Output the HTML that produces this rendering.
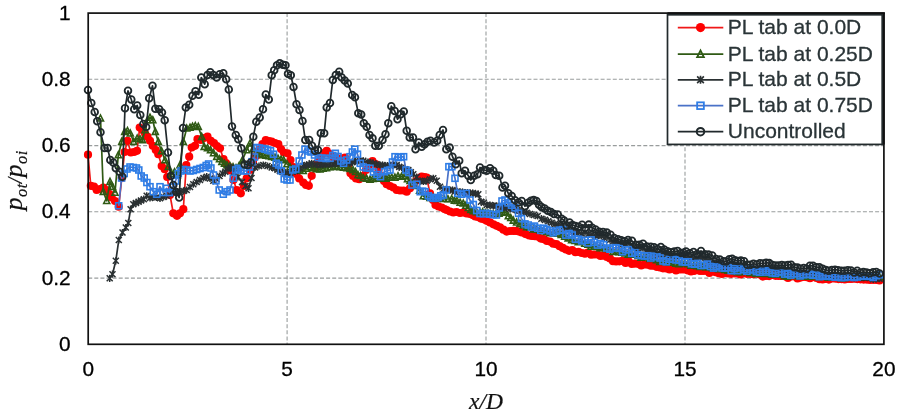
<!DOCTYPE html>
<html lang="en"><head><meta charset="utf-8"><title>Chart</title>
<style>
html,body{margin:0;padding:0;background:#fff}
body{width:900px;height:414px;overflow:hidden}
svg{display:block;filter:blur(0.4px)}
.tk{font-family:"Liberation Sans",Arial,sans-serif;font-size:20.8px;fill:#000;stroke:#000;stroke-width:.3px}
.lg{font-family:"Liberation Sans",Arial,sans-serif;font-size:21px;fill:#2a3437;stroke:#2a3437;stroke-width:.3px}
.ax{font-family:"Liberation Serif","Times New Roman",serif;font-style:italic;font-size:23.5px;fill:#111;stroke:#111;stroke-width:.2px}
.ay{font-size:25.5px;letter-spacing:.45px}
.sb{font-size:16.5px}
.sl{font-size:20px}
</style></head><body>
<svg width="900" height="414" viewBox="0 0 900 414">
<defs>
<circle id="mr" r="4.1" fill="#ff0000"/>
<path id="mg" d="M0,-3.3 L3,2.7 L-3,2.7 Z" fill="none" stroke="#2f5a14" stroke-width="1.6" stroke-linejoin="miter"/>
<path id="ms" d="M-3,-3 L3,3 M-3,3 L3,-3 M0,-3.6 L0,3.6" fill="none" stroke="#2a3032" stroke-width="1.5"/>
<rect id="mb" x="-3" y="-3" width="6" height="6" fill="none" stroke="#2e7de6" stroke-width="1.6"/>
<circle id="mu" r="3.35" fill="none" stroke="#20292c" stroke-width="1.8"/>
</defs>
<rect width="900" height="414" fill="#fff"/>
<g stroke="#999d9d" stroke-width="1.1" stroke-dasharray="4 2.1" fill="none"><line x1="88.2" y1="278.1" x2="883.9" y2="278.1"/><line x1="88.2" y1="211.8" x2="883.9" y2="211.8"/><line x1="88.2" y1="145.6" x2="883.9" y2="145.6"/><line x1="88.2" y1="79.3" x2="883.9" y2="79.3"/><line x1="287.1" y1="13.1" x2="287.1" y2="344.3"/><line x1="486" y1="13.1" x2="486" y2="344.3"/><line x1="685" y1="13.1" x2="685" y2="344.3"/></g>
<g><polyline points="88,154.7 90.8,185.8 94,186.5 96.7,190 100,189 103.3,187.5 106.5,190 109.5,194 111.7,197.5 115,201 118.7,206.7 121.8,178 124.6,152 127.5,140.8 130.8,152.5 134,152 137,150.8 139.7,127.5 142.5,130 145,133.5 147.5,136.7 150,140.8 152.8,145.8 155.8,150 158.3,154.2 161.7,166 164.7,169.2 167.2,177 170,195 173.3,213.3 177,215.8 180,213.3 183.3,209.2 186.3,165 189.2,156.7 191.7,147.5 195,145.8 197.5,139.2 200.8,140 204,138 207.5,136.7 210.8,140.8 214,143 217,146 220,148.3 223.5,159 226,163 228.5,166.5 230.5,170.5 233.5,180 236.7,190 240.8,193.3 243.8,186 246.7,178.3 250,170 253,162 256,156 259,150 262.5,144 265.8,140 269,141 271.7,141.7 275,143 278.3,144.2 281,149 283.8,152.5 287.5,153.3 290.5,160 293.5,167 296.5,174 299.2,178.5 303.3,182.5 306,185 308.8,185.8 311.7,175.8 315,168 318,162 321,157 324,153 326.7,150.8 330,154 333,157 336,158 339,158.5 342,158.5 345,157.5 348,166 350.5,173.3 353,176 356,178.5 359.2,179.2 362.5,176 366,170 369,165 372.5,161 375.5,164 378.5,170 381,176 384,181 386.7,184.2 390,186 393.3,187.5 396.7,190 400,190.5 403.5,190.5 406.7,191.7 410,188.3 413,185 416,181 419,178 421.7,176.7 424.5,177 426.7,177.5 430,193.3 433,200 435.5,205 438.5,206.5 441.7,207.5 444.5,209 446.7,210 450,211.5 453.3,212.5 456.5,212 460,213 463.3,212.5 466.6,213.5 470,214 472.7,215.1 475.3,216.5 478,217 480.9,218.6 483.8,219.3 486.7,220.8 490,222.4 493.4,224.3 496.7,225.8 500,227.3 503.4,229.7 506.7,231.6 510,231 513.3,230.9 516.1,230.9 518.9,231.5 521.7,232.5 525.5,234.1 529.2,235.5 532,235.9 534.9,236.2 537.7,236.6 540.8,238.6 543.9,239.2 546.9,241 550,241.6 553.2,243.7 556.4,244.2 559.6,246.2 562.8,247.9 565.9,249.5 569.1,250.8 572.2,250 575.4,252.2 578.5,251.8 581.7,253 584.9,253.7 588,252.5 591.1,254.7 594.2,254.5 597.4,254.5 600.5,255.9 603.6,255.4 606.8,256.9 609.9,258.4 613,261.2 616.1,261.4 619.3,261.3 622.5,260.8 625.6,263 628.7,261.4 631.8,263.9 634.9,263.6 638,263.8 641.2,265.5 644.4,264.5 647.6,264.7 650.8,265.7 653.8,265.7 656.9,266.9 660,267.5 663,268.3 666.2,268.4 669.5,269.4 672.8,268.7 676,270.4 679,269.4 682,269.4 685,269.4 688,270.5 691,271.5 694,271 697,269.6 700,271 703.1,270.9 706.2,270.8 709.4,273 712.5,271 715.6,272.2 718.8,273.2 721.9,273.9 725,272.9 728.1,273.4 731.2,273.8 734.4,273.3 737.5,273.5 740.6,274.4 743.8,273.1 746.9,273.8 750,273.8 753.2,274.2 756.4,273.5 759.6,274.4 762.8,276.6 765.9,275.9 769.1,276.1 772.3,275 775.5,275.8 778.6,276 781.8,275.9 784.9,276.3 788,277.9 791.2,276.4 794.3,276.3 797.5,278.5 800.6,277.6 803.8,276.8 806.9,277.2 810,278.2 813.2,276.9 816.4,278 819.5,279.2 822.6,279.5 825.8,278.8 828.9,279.6 832.1,278.5 835.2,278.6 838.4,279.1 841.5,279.1 844.7,279.5 847.9,279 851,279 854.2,278.7 857.3,279.1 860.5,279.3 863.7,279.6 866.8,279.6 870,279.9 873.2,279.8 876.3,280 879.5,280.5" fill="none" stroke="#f01818" stroke-width="1.7" stroke-linejoin="round"/><use href="#mr" x="88" y="154.7"/><use href="#mr" x="90.8" y="185.8"/><use href="#mr" x="94" y="186.5"/><use href="#mr" x="96.7" y="190"/><use href="#mr" x="100" y="189"/><use href="#mr" x="103.3" y="187.5"/><use href="#mr" x="106.5" y="190"/><use href="#mr" x="109.5" y="194"/><use href="#mr" x="111.7" y="197.5"/><use href="#mr" x="115" y="201"/><use href="#mr" x="118.7" y="206.7"/><use href="#mr" x="121.8" y="178"/><use href="#mr" x="124.6" y="152"/><use href="#mr" x="127.5" y="140.8"/><use href="#mr" x="130.8" y="152.5"/><use href="#mr" x="134" y="152"/><use href="#mr" x="137" y="150.8"/><use href="#mr" x="139.7" y="127.5"/><use href="#mr" x="142.5" y="130"/><use href="#mr" x="145" y="133.5"/><use href="#mr" x="147.5" y="136.7"/><use href="#mr" x="150" y="140.8"/><use href="#mr" x="152.8" y="145.8"/><use href="#mr" x="155.8" y="150"/><use href="#mr" x="158.3" y="154.2"/><use href="#mr" x="161.7" y="166"/><use href="#mr" x="164.7" y="169.2"/><use href="#mr" x="167.2" y="177"/><use href="#mr" x="170" y="195"/><use href="#mr" x="173.3" y="213.3"/><use href="#mr" x="177" y="215.8"/><use href="#mr" x="180" y="213.3"/><use href="#mr" x="183.3" y="209.2"/><use href="#mr" x="186.3" y="165"/><use href="#mr" x="189.2" y="156.7"/><use href="#mr" x="191.7" y="147.5"/><use href="#mr" x="195" y="145.8"/><use href="#mr" x="197.5" y="139.2"/><use href="#mr" x="200.8" y="140"/><use href="#mr" x="204" y="138"/><use href="#mr" x="207.5" y="136.7"/><use href="#mr" x="210.8" y="140.8"/><use href="#mr" x="214" y="143"/><use href="#mr" x="217" y="146"/><use href="#mr" x="220" y="148.3"/><use href="#mr" x="223.5" y="159"/><use href="#mr" x="226" y="163"/><use href="#mr" x="228.5" y="166.5"/><use href="#mr" x="230.5" y="170.5"/><use href="#mr" x="233.5" y="180"/><use href="#mr" x="236.7" y="190"/><use href="#mr" x="240.8" y="193.3"/><use href="#mr" x="243.8" y="186"/><use href="#mr" x="246.7" y="178.3"/><use href="#mr" x="250" y="170"/><use href="#mr" x="253" y="162"/><use href="#mr" x="256" y="156"/><use href="#mr" x="259" y="150"/><use href="#mr" x="262.5" y="144"/><use href="#mr" x="265.8" y="140"/><use href="#mr" x="269" y="141"/><use href="#mr" x="271.7" y="141.7"/><use href="#mr" x="275" y="143"/><use href="#mr" x="278.3" y="144.2"/><use href="#mr" x="281" y="149"/><use href="#mr" x="283.8" y="152.5"/><use href="#mr" x="287.5" y="153.3"/><use href="#mr" x="290.5" y="160"/><use href="#mr" x="293.5" y="167"/><use href="#mr" x="296.5" y="174"/><use href="#mr" x="299.2" y="178.5"/><use href="#mr" x="303.3" y="182.5"/><use href="#mr" x="306" y="185"/><use href="#mr" x="308.8" y="185.8"/><use href="#mr" x="311.7" y="175.8"/><use href="#mr" x="315" y="168"/><use href="#mr" x="318" y="162"/><use href="#mr" x="321" y="157"/><use href="#mr" x="324" y="153"/><use href="#mr" x="326.7" y="150.8"/><use href="#mr" x="330" y="154"/><use href="#mr" x="333" y="157"/><use href="#mr" x="336" y="158"/><use href="#mr" x="339" y="158.5"/><use href="#mr" x="342" y="158.5"/><use href="#mr" x="345" y="157.5"/><use href="#mr" x="348" y="166"/><use href="#mr" x="350.5" y="173.3"/><use href="#mr" x="353" y="176"/><use href="#mr" x="356" y="178.5"/><use href="#mr" x="359.2" y="179.2"/><use href="#mr" x="362.5" y="176"/><use href="#mr" x="366" y="170"/><use href="#mr" x="369" y="165"/><use href="#mr" x="372.5" y="161"/><use href="#mr" x="375.5" y="164"/><use href="#mr" x="378.5" y="170"/><use href="#mr" x="381" y="176"/><use href="#mr" x="384" y="181"/><use href="#mr" x="386.7" y="184.2"/><use href="#mr" x="390" y="186"/><use href="#mr" x="393.3" y="187.5"/><use href="#mr" x="396.7" y="190"/><use href="#mr" x="400" y="190.5"/><use href="#mr" x="403.5" y="190.5"/><use href="#mr" x="406.7" y="191.7"/><use href="#mr" x="410" y="188.3"/><use href="#mr" x="413" y="185"/><use href="#mr" x="416" y="181"/><use href="#mr" x="419" y="178"/><use href="#mr" x="421.7" y="176.7"/><use href="#mr" x="424.5" y="177"/><use href="#mr" x="426.7" y="177.5"/><use href="#mr" x="430" y="193.3"/><use href="#mr" x="433" y="200"/><use href="#mr" x="435.5" y="205"/><use href="#mr" x="438.5" y="206.5"/><use href="#mr" x="441.7" y="207.5"/><use href="#mr" x="444.5" y="209"/><use href="#mr" x="446.7" y="210"/><use href="#mr" x="450" y="211.5"/><use href="#mr" x="453.3" y="212.5"/><use href="#mr" x="456.5" y="212"/><use href="#mr" x="460" y="213"/><use href="#mr" x="463.3" y="212.5"/><use href="#mr" x="466.6" y="213.5"/><use href="#mr" x="470" y="214"/><use href="#mr" x="472.7" y="215.1"/><use href="#mr" x="475.3" y="216.5"/><use href="#mr" x="478" y="217"/><use href="#mr" x="480.9" y="218.6"/><use href="#mr" x="483.8" y="219.3"/><use href="#mr" x="486.7" y="220.8"/><use href="#mr" x="490" y="222.4"/><use href="#mr" x="493.4" y="224.3"/><use href="#mr" x="496.7" y="225.8"/><use href="#mr" x="500" y="227.3"/><use href="#mr" x="503.4" y="229.7"/><use href="#mr" x="506.7" y="231.6"/><use href="#mr" x="510" y="231"/><use href="#mr" x="513.3" y="230.9"/><use href="#mr" x="516.1" y="230.9"/><use href="#mr" x="518.9" y="231.5"/><use href="#mr" x="521.7" y="232.5"/><use href="#mr" x="525.5" y="234.1"/><use href="#mr" x="529.2" y="235.5"/><use href="#mr" x="532" y="235.9"/><use href="#mr" x="534.9" y="236.2"/><use href="#mr" x="537.7" y="236.6"/><use href="#mr" x="540.8" y="238.6"/><use href="#mr" x="543.9" y="239.2"/><use href="#mr" x="546.9" y="241"/><use href="#mr" x="550" y="241.6"/><use href="#mr" x="553.2" y="243.7"/><use href="#mr" x="556.4" y="244.2"/><use href="#mr" x="559.6" y="246.2"/><use href="#mr" x="562.8" y="247.9"/><use href="#mr" x="565.9" y="249.5"/><use href="#mr" x="569.1" y="250.8"/><use href="#mr" x="572.2" y="250"/><use href="#mr" x="575.4" y="252.2"/><use href="#mr" x="578.5" y="251.8"/><use href="#mr" x="581.7" y="253"/><use href="#mr" x="584.9" y="253.7"/><use href="#mr" x="588" y="252.5"/><use href="#mr" x="591.1" y="254.7"/><use href="#mr" x="594.2" y="254.5"/><use href="#mr" x="597.4" y="254.5"/><use href="#mr" x="600.5" y="255.9"/><use href="#mr" x="603.6" y="255.4"/><use href="#mr" x="606.8" y="256.9"/><use href="#mr" x="609.9" y="258.4"/><use href="#mr" x="613" y="261.2"/><use href="#mr" x="616.1" y="261.4"/><use href="#mr" x="619.3" y="261.3"/><use href="#mr" x="622.5" y="260.8"/><use href="#mr" x="625.6" y="263"/><use href="#mr" x="628.7" y="261.4"/><use href="#mr" x="631.8" y="263.9"/><use href="#mr" x="634.9" y="263.6"/><use href="#mr" x="638" y="263.8"/><use href="#mr" x="641.2" y="265.5"/><use href="#mr" x="644.4" y="264.5"/><use href="#mr" x="647.6" y="264.7"/><use href="#mr" x="650.8" y="265.7"/><use href="#mr" x="653.8" y="265.7"/><use href="#mr" x="656.9" y="266.9"/><use href="#mr" x="660" y="267.5"/><use href="#mr" x="663" y="268.3"/><use href="#mr" x="666.2" y="268.4"/><use href="#mr" x="669.5" y="269.4"/><use href="#mr" x="672.8" y="268.7"/><use href="#mr" x="676" y="270.4"/><use href="#mr" x="679" y="269.4"/><use href="#mr" x="682" y="269.4"/><use href="#mr" x="685" y="269.4"/><use href="#mr" x="688" y="270.5"/><use href="#mr" x="691" y="271.5"/><use href="#mr" x="694" y="271"/><use href="#mr" x="697" y="269.6"/><use href="#mr" x="700" y="271"/><use href="#mr" x="703.1" y="270.9"/><use href="#mr" x="706.2" y="270.8"/><use href="#mr" x="709.4" y="273"/><use href="#mr" x="712.5" y="271"/><use href="#mr" x="715.6" y="272.2"/><use href="#mr" x="718.8" y="273.2"/><use href="#mr" x="721.9" y="273.9"/><use href="#mr" x="725" y="272.9"/><use href="#mr" x="728.1" y="273.4"/><use href="#mr" x="731.2" y="273.8"/><use href="#mr" x="734.4" y="273.3"/><use href="#mr" x="737.5" y="273.5"/><use href="#mr" x="740.6" y="274.4"/><use href="#mr" x="743.8" y="273.1"/><use href="#mr" x="746.9" y="273.8"/><use href="#mr" x="750" y="273.8"/><use href="#mr" x="753.2" y="274.2"/><use href="#mr" x="756.4" y="273.5"/><use href="#mr" x="759.6" y="274.4"/><use href="#mr" x="762.8" y="276.6"/><use href="#mr" x="765.9" y="275.9"/><use href="#mr" x="769.1" y="276.1"/><use href="#mr" x="772.3" y="275"/><use href="#mr" x="775.5" y="275.8"/><use href="#mr" x="778.6" y="276"/><use href="#mr" x="781.8" y="275.9"/><use href="#mr" x="784.9" y="276.3"/><use href="#mr" x="788" y="277.9"/><use href="#mr" x="791.2" y="276.4"/><use href="#mr" x="794.3" y="276.3"/><use href="#mr" x="797.5" y="278.5"/><use href="#mr" x="800.6" y="277.6"/><use href="#mr" x="803.8" y="276.8"/><use href="#mr" x="806.9" y="277.2"/><use href="#mr" x="810" y="278.2"/><use href="#mr" x="813.2" y="276.9"/><use href="#mr" x="816.4" y="278"/><use href="#mr" x="819.5" y="279.2"/><use href="#mr" x="822.6" y="279.5"/><use href="#mr" x="825.8" y="278.8"/><use href="#mr" x="828.9" y="279.6"/><use href="#mr" x="832.1" y="278.5"/><use href="#mr" x="835.2" y="278.6"/><use href="#mr" x="838.4" y="279.1"/><use href="#mr" x="841.5" y="279.1"/><use href="#mr" x="844.7" y="279.5"/><use href="#mr" x="847.9" y="279"/><use href="#mr" x="851" y="279"/><use href="#mr" x="854.2" y="278.7"/><use href="#mr" x="857.3" y="279.1"/><use href="#mr" x="860.5" y="279.3"/><use href="#mr" x="863.7" y="279.6"/><use href="#mr" x="866.8" y="279.6"/><use href="#mr" x="870" y="279.9"/><use href="#mr" x="873.2" y="279.8"/><use href="#mr" x="876.3" y="280"/><use href="#mr" x="879.5" y="280.5"/></g>
<g><polyline points="100.5,118.3 103.3,191.7 106.7,200.8 110,181.7 112.5,186.7 115,192.5 118.3,155 121.7,141.7 124.7,131.7 127.5,130.8 130.3,133.3 133.7,141.7 137.2,138.3 140,139 142.5,140 145,130 147.5,120 150,117.5 152.8,120 155.3,131.7 158.3,141.7 161.5,151 165,160 168.3,166.7 171.7,174.2 174.5,172 177.3,175 180,165 183.3,141.7 186.7,128.3 190,127.5 192.5,126.5 195.3,125.8 198.3,126.7 201.7,136.7 204.2,146.7 207.5,148 210.5,150 213.5,153 216.7,156.7 219.5,159 221.9,161.7 224.5,163.5 227,165 230,166 233,167 236,168 239,166 242.5,160 246.7,150 250,143.3 253,149 256.7,153.3 260,154 263,155 266,155.5 269,156 271.7,156.7 275,157.5 278,158.5 281,159.5 283.6,160 287,164 290,167 293,169 296,170 300,170.5 303.3,170.8 306.5,168.5 310,167 313,168 316.5,169 320,169.2 323,168.5 326.5,168 330,167 333.3,166.7 336.6,166.5 340,167 343.5,167.5 347,168 350,168.8 353,170 355.5,171.8 358,175 360.6,175.8 363.3,178 366.6,178.4 370,179.5 373,178.7 376,178.5 379.5,178.5 383,178 385.9,178.5 388.8,177.6 391.7,177.5 394.9,177.4 398,176 401.5,176.6 405,175.8 407.5,178.9 410,180.8 413,183.1 416,185.8 419.6,190.6 423.3,196.1 426.6,196.6 430,197.8 433.5,197.9 437,198.8 440.5,198.4 444,198.8 447.9,199 451.7,198.8 454.4,200.4 457,200.8 460.1,202.5 463.3,203.3 465.8,205.5 468.3,207.8 470.8,209.7 473.3,211.1 476.6,212.1 480,212.3 482.7,212.1 485.3,213.2 488,213.3 490.7,214 493.3,214 496,213.8 499,213.5 502,212.4 505,211.8 508.3,216.1 510.8,217.8 513.3,220.4 516.6,222.3 520,223.7 523.3,225.2 526.7,227 530,227.5 533.3,229.2 536.7,229.2 540,230.1 543.3,230.9 546.7,231.8 550,233.1 553.9,233.1 557.8,233.4 561.2,234.8 564.7,236.5 568.1,238.2 571.6,239.9 575,240.8 578.2,242.1 581.5,241.1 584.8,243.5 588,244.4 591,246.5 594,246.6 597,246.8 600,247.9 603.2,247.7 606.5,248.7 609.8,249.5 613,251.7 616,251.6 619,252 622,252.4 625,253.3 628.2,254.6 631.5,254.1 634.8,254.5 638,255.8 641,257.4 644,256.7 647,257.2 650,258.7 653.2,258.4 656.5,260.1 659.8,261.7 663,261.4 666.2,261.7 669.5,262.5 672.8,261.3 676,263.4 679,263.9 682,262.8 685,263.1 688,264 691,265.5 694,265.5 697,266 700,266.8 703.1,266.3 706.2,267 709.4,266.9 712.5,268 715.6,267.7 718.8,269 721.9,268.6 725,269.8 728.1,270.5 731.2,269.5 734.4,271.2 737.5,272 740.6,271.9 743.8,271.5 746.9,271.4 750,272.7 753.1,272.3 756.2,273.8 759.4,272.2 762.5,273.6 765.6,273.8 768.8,273.2 771.9,274.6 775,273.9 778.1,274 781.2,274.5 784.4,276.1 787.5,276.4 790.6,275.6 793.8,275.5 796.9,276 800,276.3 803.1,276 806.2,276.6 809.4,276.6 812.5,275.8 815.6,276.1 818.8,277.1 821.9,276.5 825,276.6 828.2,277.5 831.5,277.3 834.8,276.8 838,277.1 841.2,278.1 844.5,277.9 847.8,277.4 851,277.3 854.2,277.4 857.3,277.1 860.5,277.4 863.7,277.1 866.8,276.6 870,277.2 873.2,277.5 876.3,277.6 879.5,277" fill="none" stroke="#2f5a14" stroke-width="1.7" stroke-linejoin="round"/><use href="#mg" x="100.5" y="118.3"/><use href="#mg" x="103.3" y="191.7"/><use href="#mg" x="106.7" y="200.8"/><use href="#mg" x="110" y="181.7"/><use href="#mg" x="112.5" y="186.7"/><use href="#mg" x="115" y="192.5"/><use href="#mg" x="118.3" y="155"/><use href="#mg" x="121.7" y="141.7"/><use href="#mg" x="124.7" y="131.7"/><use href="#mg" x="127.5" y="130.8"/><use href="#mg" x="130.3" y="133.3"/><use href="#mg" x="133.7" y="141.7"/><use href="#mg" x="137.2" y="138.3"/><use href="#mg" x="140" y="139"/><use href="#mg" x="142.5" y="140"/><use href="#mg" x="145" y="130"/><use href="#mg" x="147.5" y="120"/><use href="#mg" x="150" y="117.5"/><use href="#mg" x="152.8" y="120"/><use href="#mg" x="155.3" y="131.7"/><use href="#mg" x="158.3" y="141.7"/><use href="#mg" x="161.5" y="151"/><use href="#mg" x="165" y="160"/><use href="#mg" x="168.3" y="166.7"/><use href="#mg" x="171.7" y="174.2"/><use href="#mg" x="174.5" y="172"/><use href="#mg" x="177.3" y="175"/><use href="#mg" x="180" y="165"/><use href="#mg" x="183.3" y="141.7"/><use href="#mg" x="186.7" y="128.3"/><use href="#mg" x="190" y="127.5"/><use href="#mg" x="192.5" y="126.5"/><use href="#mg" x="195.3" y="125.8"/><use href="#mg" x="198.3" y="126.7"/><use href="#mg" x="201.7" y="136.7"/><use href="#mg" x="204.2" y="146.7"/><use href="#mg" x="207.5" y="148"/><use href="#mg" x="210.5" y="150"/><use href="#mg" x="213.5" y="153"/><use href="#mg" x="216.7" y="156.7"/><use href="#mg" x="219.5" y="159"/><use href="#mg" x="221.9" y="161.7"/><use href="#mg" x="224.5" y="163.5"/><use href="#mg" x="227" y="165"/><use href="#mg" x="230" y="166"/><use href="#mg" x="233" y="167"/><use href="#mg" x="236" y="168"/><use href="#mg" x="239" y="166"/><use href="#mg" x="242.5" y="160"/><use href="#mg" x="246.7" y="150"/><use href="#mg" x="250" y="143.3"/><use href="#mg" x="253" y="149"/><use href="#mg" x="256.7" y="153.3"/><use href="#mg" x="260" y="154"/><use href="#mg" x="263" y="155"/><use href="#mg" x="266" y="155.5"/><use href="#mg" x="269" y="156"/><use href="#mg" x="271.7" y="156.7"/><use href="#mg" x="275" y="157.5"/><use href="#mg" x="278" y="158.5"/><use href="#mg" x="281" y="159.5"/><use href="#mg" x="283.6" y="160"/><use href="#mg" x="287" y="164"/><use href="#mg" x="290" y="167"/><use href="#mg" x="293" y="169"/><use href="#mg" x="296" y="170"/><use href="#mg" x="300" y="170.5"/><use href="#mg" x="303.3" y="170.8"/><use href="#mg" x="306.5" y="168.5"/><use href="#mg" x="310" y="167"/><use href="#mg" x="313" y="168"/><use href="#mg" x="316.5" y="169"/><use href="#mg" x="320" y="169.2"/><use href="#mg" x="323" y="168.5"/><use href="#mg" x="326.5" y="168"/><use href="#mg" x="330" y="167"/><use href="#mg" x="333.3" y="166.7"/><use href="#mg" x="336.6" y="166.5"/><use href="#mg" x="340" y="167"/><use href="#mg" x="343.5" y="167.5"/><use href="#mg" x="347" y="168"/><use href="#mg" x="350" y="168.8"/><use href="#mg" x="353" y="170"/><use href="#mg" x="355.5" y="171.8"/><use href="#mg" x="358" y="175"/><use href="#mg" x="360.6" y="175.8"/><use href="#mg" x="363.3" y="178"/><use href="#mg" x="366.6" y="178.4"/><use href="#mg" x="370" y="179.5"/><use href="#mg" x="373" y="178.7"/><use href="#mg" x="376" y="178.5"/><use href="#mg" x="379.5" y="178.5"/><use href="#mg" x="383" y="178"/><use href="#mg" x="385.9" y="178.5"/><use href="#mg" x="388.8" y="177.6"/><use href="#mg" x="391.7" y="177.5"/><use href="#mg" x="394.9" y="177.4"/><use href="#mg" x="398" y="176"/><use href="#mg" x="401.5" y="176.6"/><use href="#mg" x="405" y="175.8"/><use href="#mg" x="407.5" y="178.9"/><use href="#mg" x="410" y="180.8"/><use href="#mg" x="413" y="183.1"/><use href="#mg" x="416" y="185.8"/><use href="#mg" x="419.6" y="190.6"/><use href="#mg" x="423.3" y="196.1"/><use href="#mg" x="426.6" y="196.6"/><use href="#mg" x="430" y="197.8"/><use href="#mg" x="433.5" y="197.9"/><use href="#mg" x="437" y="198.8"/><use href="#mg" x="440.5" y="198.4"/><use href="#mg" x="444" y="198.8"/><use href="#mg" x="447.9" y="199"/><use href="#mg" x="451.7" y="198.8"/><use href="#mg" x="454.4" y="200.4"/><use href="#mg" x="457" y="200.8"/><use href="#mg" x="460.1" y="202.5"/><use href="#mg" x="463.3" y="203.3"/><use href="#mg" x="465.8" y="205.5"/><use href="#mg" x="468.3" y="207.8"/><use href="#mg" x="470.8" y="209.7"/><use href="#mg" x="473.3" y="211.1"/><use href="#mg" x="476.6" y="212.1"/><use href="#mg" x="480" y="212.3"/><use href="#mg" x="482.7" y="212.1"/><use href="#mg" x="485.3" y="213.2"/><use href="#mg" x="488" y="213.3"/><use href="#mg" x="490.7" y="214"/><use href="#mg" x="493.3" y="214"/><use href="#mg" x="496" y="213.8"/><use href="#mg" x="499" y="213.5"/><use href="#mg" x="502" y="212.4"/><use href="#mg" x="505" y="211.8"/><use href="#mg" x="508.3" y="216.1"/><use href="#mg" x="510.8" y="217.8"/><use href="#mg" x="513.3" y="220.4"/><use href="#mg" x="516.6" y="222.3"/><use href="#mg" x="520" y="223.7"/><use href="#mg" x="523.3" y="225.2"/><use href="#mg" x="526.7" y="227"/><use href="#mg" x="530" y="227.5"/><use href="#mg" x="533.3" y="229.2"/><use href="#mg" x="536.7" y="229.2"/><use href="#mg" x="540" y="230.1"/><use href="#mg" x="543.3" y="230.9"/><use href="#mg" x="546.7" y="231.8"/><use href="#mg" x="550" y="233.1"/><use href="#mg" x="553.9" y="233.1"/><use href="#mg" x="557.8" y="233.4"/><use href="#mg" x="561.2" y="234.8"/><use href="#mg" x="564.7" y="236.5"/><use href="#mg" x="568.1" y="238.2"/><use href="#mg" x="571.6" y="239.9"/><use href="#mg" x="575" y="240.8"/><use href="#mg" x="578.2" y="242.1"/><use href="#mg" x="581.5" y="241.1"/><use href="#mg" x="584.8" y="243.5"/><use href="#mg" x="588" y="244.4"/><use href="#mg" x="591" y="246.5"/><use href="#mg" x="594" y="246.6"/><use href="#mg" x="597" y="246.8"/><use href="#mg" x="600" y="247.9"/><use href="#mg" x="603.2" y="247.7"/><use href="#mg" x="606.5" y="248.7"/><use href="#mg" x="609.8" y="249.5"/><use href="#mg" x="613" y="251.7"/><use href="#mg" x="616" y="251.6"/><use href="#mg" x="619" y="252"/><use href="#mg" x="622" y="252.4"/><use href="#mg" x="625" y="253.3"/><use href="#mg" x="628.2" y="254.6"/><use href="#mg" x="631.5" y="254.1"/><use href="#mg" x="634.8" y="254.5"/><use href="#mg" x="638" y="255.8"/><use href="#mg" x="641" y="257.4"/><use href="#mg" x="644" y="256.7"/><use href="#mg" x="647" y="257.2"/><use href="#mg" x="650" y="258.7"/><use href="#mg" x="653.2" y="258.4"/><use href="#mg" x="656.5" y="260.1"/><use href="#mg" x="659.8" y="261.7"/><use href="#mg" x="663" y="261.4"/><use href="#mg" x="666.2" y="261.7"/><use href="#mg" x="669.5" y="262.5"/><use href="#mg" x="672.8" y="261.3"/><use href="#mg" x="676" y="263.4"/><use href="#mg" x="679" y="263.9"/><use href="#mg" x="682" y="262.8"/><use href="#mg" x="685" y="263.1"/><use href="#mg" x="688" y="264"/><use href="#mg" x="691" y="265.5"/><use href="#mg" x="694" y="265.5"/><use href="#mg" x="697" y="266"/><use href="#mg" x="700" y="266.8"/><use href="#mg" x="703.1" y="266.3"/><use href="#mg" x="706.2" y="267"/><use href="#mg" x="709.4" y="266.9"/><use href="#mg" x="712.5" y="268"/><use href="#mg" x="715.6" y="267.7"/><use href="#mg" x="718.8" y="269"/><use href="#mg" x="721.9" y="268.6"/><use href="#mg" x="725" y="269.8"/><use href="#mg" x="728.1" y="270.5"/><use href="#mg" x="731.2" y="269.5"/><use href="#mg" x="734.4" y="271.2"/><use href="#mg" x="737.5" y="272"/><use href="#mg" x="740.6" y="271.9"/><use href="#mg" x="743.8" y="271.5"/><use href="#mg" x="746.9" y="271.4"/><use href="#mg" x="750" y="272.7"/><use href="#mg" x="753.1" y="272.3"/><use href="#mg" x="756.2" y="273.8"/><use href="#mg" x="759.4" y="272.2"/><use href="#mg" x="762.5" y="273.6"/><use href="#mg" x="765.6" y="273.8"/><use href="#mg" x="768.8" y="273.2"/><use href="#mg" x="771.9" y="274.6"/><use href="#mg" x="775" y="273.9"/><use href="#mg" x="778.1" y="274"/><use href="#mg" x="781.2" y="274.5"/><use href="#mg" x="784.4" y="276.1"/><use href="#mg" x="787.5" y="276.4"/><use href="#mg" x="790.6" y="275.6"/><use href="#mg" x="793.8" y="275.5"/><use href="#mg" x="796.9" y="276"/><use href="#mg" x="800" y="276.3"/><use href="#mg" x="803.1" y="276"/><use href="#mg" x="806.2" y="276.6"/><use href="#mg" x="809.4" y="276.6"/><use href="#mg" x="812.5" y="275.8"/><use href="#mg" x="815.6" y="276.1"/><use href="#mg" x="818.8" y="277.1"/><use href="#mg" x="821.9" y="276.5"/><use href="#mg" x="825" y="276.6"/><use href="#mg" x="828.2" y="277.5"/><use href="#mg" x="831.5" y="277.3"/><use href="#mg" x="834.8" y="276.8"/><use href="#mg" x="838" y="277.1"/><use href="#mg" x="841.2" y="278.1"/><use href="#mg" x="844.5" y="277.9"/><use href="#mg" x="847.8" y="277.4"/><use href="#mg" x="851" y="277.3"/><use href="#mg" x="854.2" y="277.4"/><use href="#mg" x="857.3" y="277.1"/><use href="#mg" x="860.5" y="277.4"/><use href="#mg" x="863.7" y="277.1"/><use href="#mg" x="866.8" y="276.6"/><use href="#mg" x="870" y="277.2"/><use href="#mg" x="873.2" y="277.5"/><use href="#mg" x="876.3" y="277.6"/><use href="#mg" x="879.5" y="277"/></g>
<g><polyline points="109.7,278.3 112.5,274.2 115.8,260.8 118.8,240 122.5,232.5 125.8,227.5 128.3,223 130.6,209.2 133.3,204.2 136,203 138.6,201.7 141,200.5 143.8,199.2 146.7,195.8 150,198 153,197 156.5,197.5 160,198.3 163.5,197 166.7,195.8 170,193.5 173.3,191.7 176.5,191.7 180,191.7 183.5,191 186.7,190 190,187 193.3,184.2 196.7,182 200,180 203.5,178 206.7,176.7 210,178.5 213.3,180.8 216.5,179 219.5,176 222.5,173.5 225.3,171.7 228,169 230.8,167.5 234,172 238,177 242,182 245.5,186 248.5,188.3 251.5,178 255,167.5 259,166 263.3,165 267.5,166 271.7,167.5 275,168.3 277.5,169.8 280,171 282.5,171.9 285,173 287.5,173 290,173.5 292.5,171.6 295,171 297.5,169 300,168 303.4,165.9 306.7,165 309.2,164.5 311.7,163.3 316,164.5 320,165 323,164.4 326,164.5 329.5,163.8 333,164 336.5,163.2 340,163.5 343.5,163.7 347,163 349.7,163 352.3,162.2 355,161.5 357.8,161 360.5,160.7 363.3,160.8 368,162 370.5,162.5 373,163.5 376.5,164.2 380,165 382.5,165 385,166 387.5,165.7 390,165.5 393.4,164.9 396.7,165 399.2,166.9 401.7,167.5 405,169.4 408.3,170 410.8,172.2 413.3,174.2 416.6,177.1 420,180.8 423.4,181.5 426.7,180.8 430,179.3 433.3,178.3 436.7,180.8 440,186.7 443.3,189.2 446.6,189.4 450,190 452.5,190.1 455,191.5 457.5,191.6 460,192 462.5,192.2 465,192.5 467.5,192.8 470,193 472.8,193 475.5,193.8 478.3,194.2 481,201.7 483.9,202.7 486.7,205 490,205.1 493.3,205.8 496.6,205.8 500,207 503.3,207.5 506.7,207.7 510,209 513.3,208.9 516.7,210.1 520,210.7 523.3,211.8 526.7,212.7 530,214 533.9,215 537.7,216 541.4,218.7 545,219.9 548.3,221.3 551.7,222.8 555,224.1 558.3,225 561.7,225.6 565,228.2 568.3,229.4 571.7,231 575,232.6 578.3,232.1 581.7,233.6 585,232.2 588.5,234 592,234.5 595.5,235.7 598.4,235.3 601.3,236 604.2,238 607.1,236.8 610,239.9 613,241.5 616,241.7 619,243.8 622,245 625,243.7 628,242.4 631,246.3 634,247.1 637,249.1 640,247.3 643,248.1 646,250.9 649,250.4 652,251.3 655,252.8 658,254.6 661,254.6 664,252.9 667,254.4 670,256.1 673,255.8 676,256.6 679,256 682,256.2 685,256 688,255.8 691,257.8 694,258.5 697,258.4 700,256.9 703,257.5 706,258.5 709,260.9 712,262.6 715,264.1 718,263.1 721,264.1 724,267.1 727,265.2 730,266 733.3,265.3 736.7,265.8 740,266.4 743.3,267.1 746.7,268.8 750,268.2 753.1,269.8 756.2,269.7 759.4,268.2 762.5,268.4 765.6,269.5 768.8,268.4 771.9,268.5 775,268.7 778.1,269.9 781.2,269.3 784.4,271.8 787.5,271.6 790.6,271.6 793.8,273.4 796.9,272.7 800,272.9 803.1,273.3 806.2,273.1 809.4,273.4 812.5,272.9 815.6,272.2 818.8,274.3 821.9,275.3 825,276.4 828.2,276.8 831.5,275.4 834.8,276.8 838,276.1 841.2,275.9 844.5,277.1 847.8,277.5 851,277 854.2,278 857.3,276.3 860.5,277.6 863.7,277.7 866.8,277.4 870,278 873.2,279.3 876.3,278.8 879.5,278.7" fill="none" stroke="#2a3032" stroke-width="1.7" stroke-linejoin="round"/><use href="#ms" x="109.7" y="278.3"/><use href="#ms" x="112.5" y="274.2"/><use href="#ms" x="115.8" y="260.8"/><use href="#ms" x="118.8" y="240"/><use href="#ms" x="122.5" y="232.5"/><use href="#ms" x="125.8" y="227.5"/><use href="#ms" x="128.3" y="223"/><use href="#ms" x="130.6" y="209.2"/><use href="#ms" x="133.3" y="204.2"/><use href="#ms" x="136" y="203"/><use href="#ms" x="138.6" y="201.7"/><use href="#ms" x="141" y="200.5"/><use href="#ms" x="143.8" y="199.2"/><use href="#ms" x="146.7" y="195.8"/><use href="#ms" x="150" y="198"/><use href="#ms" x="153" y="197"/><use href="#ms" x="156.5" y="197.5"/><use href="#ms" x="160" y="198.3"/><use href="#ms" x="163.5" y="197"/><use href="#ms" x="166.7" y="195.8"/><use href="#ms" x="170" y="193.5"/><use href="#ms" x="173.3" y="191.7"/><use href="#ms" x="176.5" y="191.7"/><use href="#ms" x="180" y="191.7"/><use href="#ms" x="183.5" y="191"/><use href="#ms" x="186.7" y="190"/><use href="#ms" x="190" y="187"/><use href="#ms" x="193.3" y="184.2"/><use href="#ms" x="196.7" y="182"/><use href="#ms" x="200" y="180"/><use href="#ms" x="203.5" y="178"/><use href="#ms" x="206.7" y="176.7"/><use href="#ms" x="210" y="178.5"/><use href="#ms" x="213.3" y="180.8"/><use href="#ms" x="216.5" y="179"/><use href="#ms" x="219.5" y="176"/><use href="#ms" x="222.5" y="173.5"/><use href="#ms" x="225.3" y="171.7"/><use href="#ms" x="228" y="169"/><use href="#ms" x="230.8" y="167.5"/><use href="#ms" x="234" y="172"/><use href="#ms" x="238" y="177"/><use href="#ms" x="242" y="182"/><use href="#ms" x="245.5" y="186"/><use href="#ms" x="248.5" y="188.3"/><use href="#ms" x="251.5" y="178"/><use href="#ms" x="255" y="167.5"/><use href="#ms" x="259" y="166"/><use href="#ms" x="263.3" y="165"/><use href="#ms" x="267.5" y="166"/><use href="#ms" x="271.7" y="167.5"/><use href="#ms" x="275" y="168.3"/><use href="#ms" x="277.5" y="169.8"/><use href="#ms" x="280" y="171"/><use href="#ms" x="282.5" y="171.9"/><use href="#ms" x="285" y="173"/><use href="#ms" x="287.5" y="173"/><use href="#ms" x="290" y="173.5"/><use href="#ms" x="292.5" y="171.6"/><use href="#ms" x="295" y="171"/><use href="#ms" x="297.5" y="169"/><use href="#ms" x="300" y="168"/><use href="#ms" x="303.4" y="165.9"/><use href="#ms" x="306.7" y="165"/><use href="#ms" x="309.2" y="164.5"/><use href="#ms" x="311.7" y="163.3"/><use href="#ms" x="316" y="164.5"/><use href="#ms" x="320" y="165"/><use href="#ms" x="323" y="164.4"/><use href="#ms" x="326" y="164.5"/><use href="#ms" x="329.5" y="163.8"/><use href="#ms" x="333" y="164"/><use href="#ms" x="336.5" y="163.2"/><use href="#ms" x="340" y="163.5"/><use href="#ms" x="343.5" y="163.7"/><use href="#ms" x="347" y="163"/><use href="#ms" x="349.7" y="163"/><use href="#ms" x="352.3" y="162.2"/><use href="#ms" x="355" y="161.5"/><use href="#ms" x="357.8" y="161"/><use href="#ms" x="360.5" y="160.7"/><use href="#ms" x="363.3" y="160.8"/><use href="#ms" x="368" y="162"/><use href="#ms" x="370.5" y="162.5"/><use href="#ms" x="373" y="163.5"/><use href="#ms" x="376.5" y="164.2"/><use href="#ms" x="380" y="165"/><use href="#ms" x="382.5" y="165"/><use href="#ms" x="385" y="166"/><use href="#ms" x="387.5" y="165.7"/><use href="#ms" x="390" y="165.5"/><use href="#ms" x="393.4" y="164.9"/><use href="#ms" x="396.7" y="165"/><use href="#ms" x="399.2" y="166.9"/><use href="#ms" x="401.7" y="167.5"/><use href="#ms" x="405" y="169.4"/><use href="#ms" x="408.3" y="170"/><use href="#ms" x="410.8" y="172.2"/><use href="#ms" x="413.3" y="174.2"/><use href="#ms" x="416.6" y="177.1"/><use href="#ms" x="420" y="180.8"/><use href="#ms" x="423.4" y="181.5"/><use href="#ms" x="426.7" y="180.8"/><use href="#ms" x="430" y="179.3"/><use href="#ms" x="433.3" y="178.3"/><use href="#ms" x="436.7" y="180.8"/><use href="#ms" x="440" y="186.7"/><use href="#ms" x="443.3" y="189.2"/><use href="#ms" x="446.6" y="189.4"/><use href="#ms" x="450" y="190"/><use href="#ms" x="452.5" y="190.1"/><use href="#ms" x="455" y="191.5"/><use href="#ms" x="457.5" y="191.6"/><use href="#ms" x="460" y="192"/><use href="#ms" x="462.5" y="192.2"/><use href="#ms" x="465" y="192.5"/><use href="#ms" x="467.5" y="192.8"/><use href="#ms" x="470" y="193"/><use href="#ms" x="472.8" y="193"/><use href="#ms" x="475.5" y="193.8"/><use href="#ms" x="478.3" y="194.2"/><use href="#ms" x="481" y="201.7"/><use href="#ms" x="483.9" y="202.7"/><use href="#ms" x="486.7" y="205"/><use href="#ms" x="490" y="205.1"/><use href="#ms" x="493.3" y="205.8"/><use href="#ms" x="496.6" y="205.8"/><use href="#ms" x="500" y="207"/><use href="#ms" x="503.3" y="207.5"/><use href="#ms" x="506.7" y="207.7"/><use href="#ms" x="510" y="209"/><use href="#ms" x="513.3" y="208.9"/><use href="#ms" x="516.7" y="210.1"/><use href="#ms" x="520" y="210.7"/><use href="#ms" x="523.3" y="211.8"/><use href="#ms" x="526.7" y="212.7"/><use href="#ms" x="530" y="214"/><use href="#ms" x="533.9" y="215"/><use href="#ms" x="537.7" y="216"/><use href="#ms" x="541.4" y="218.7"/><use href="#ms" x="545" y="219.9"/><use href="#ms" x="548.3" y="221.3"/><use href="#ms" x="551.7" y="222.8"/><use href="#ms" x="555" y="224.1"/><use href="#ms" x="558.3" y="225"/><use href="#ms" x="561.7" y="225.6"/><use href="#ms" x="565" y="228.2"/><use href="#ms" x="568.3" y="229.4"/><use href="#ms" x="571.7" y="231"/><use href="#ms" x="575" y="232.6"/><use href="#ms" x="578.3" y="232.1"/><use href="#ms" x="581.7" y="233.6"/><use href="#ms" x="585" y="232.2"/><use href="#ms" x="588.5" y="234"/><use href="#ms" x="592" y="234.5"/><use href="#ms" x="595.5" y="235.7"/><use href="#ms" x="598.4" y="235.3"/><use href="#ms" x="601.3" y="236"/><use href="#ms" x="604.2" y="238"/><use href="#ms" x="607.1" y="236.8"/><use href="#ms" x="610" y="239.9"/><use href="#ms" x="613" y="241.5"/><use href="#ms" x="616" y="241.7"/><use href="#ms" x="619" y="243.8"/><use href="#ms" x="622" y="245"/><use href="#ms" x="625" y="243.7"/><use href="#ms" x="628" y="242.4"/><use href="#ms" x="631" y="246.3"/><use href="#ms" x="634" y="247.1"/><use href="#ms" x="637" y="249.1"/><use href="#ms" x="640" y="247.3"/><use href="#ms" x="643" y="248.1"/><use href="#ms" x="646" y="250.9"/><use href="#ms" x="649" y="250.4"/><use href="#ms" x="652" y="251.3"/><use href="#ms" x="655" y="252.8"/><use href="#ms" x="658" y="254.6"/><use href="#ms" x="661" y="254.6"/><use href="#ms" x="664" y="252.9"/><use href="#ms" x="667" y="254.4"/><use href="#ms" x="670" y="256.1"/><use href="#ms" x="673" y="255.8"/><use href="#ms" x="676" y="256.6"/><use href="#ms" x="679" y="256"/><use href="#ms" x="682" y="256.2"/><use href="#ms" x="685" y="256"/><use href="#ms" x="688" y="255.8"/><use href="#ms" x="691" y="257.8"/><use href="#ms" x="694" y="258.5"/><use href="#ms" x="697" y="258.4"/><use href="#ms" x="700" y="256.9"/><use href="#ms" x="703" y="257.5"/><use href="#ms" x="706" y="258.5"/><use href="#ms" x="709" y="260.9"/><use href="#ms" x="712" y="262.6"/><use href="#ms" x="715" y="264.1"/><use href="#ms" x="718" y="263.1"/><use href="#ms" x="721" y="264.1"/><use href="#ms" x="724" y="267.1"/><use href="#ms" x="727" y="265.2"/><use href="#ms" x="730" y="266"/><use href="#ms" x="733.3" y="265.3"/><use href="#ms" x="736.7" y="265.8"/><use href="#ms" x="740" y="266.4"/><use href="#ms" x="743.3" y="267.1"/><use href="#ms" x="746.7" y="268.8"/><use href="#ms" x="750" y="268.2"/><use href="#ms" x="753.1" y="269.8"/><use href="#ms" x="756.2" y="269.7"/><use href="#ms" x="759.4" y="268.2"/><use href="#ms" x="762.5" y="268.4"/><use href="#ms" x="765.6" y="269.5"/><use href="#ms" x="768.8" y="268.4"/><use href="#ms" x="771.9" y="268.5"/><use href="#ms" x="775" y="268.7"/><use href="#ms" x="778.1" y="269.9"/><use href="#ms" x="781.2" y="269.3"/><use href="#ms" x="784.4" y="271.8"/><use href="#ms" x="787.5" y="271.6"/><use href="#ms" x="790.6" y="271.6"/><use href="#ms" x="793.8" y="273.4"/><use href="#ms" x="796.9" y="272.7"/><use href="#ms" x="800" y="272.9"/><use href="#ms" x="803.1" y="273.3"/><use href="#ms" x="806.2" y="273.1"/><use href="#ms" x="809.4" y="273.4"/><use href="#ms" x="812.5" y="272.9"/><use href="#ms" x="815.6" y="272.2"/><use href="#ms" x="818.8" y="274.3"/><use href="#ms" x="821.9" y="275.3"/><use href="#ms" x="825" y="276.4"/><use href="#ms" x="828.2" y="276.8"/><use href="#ms" x="831.5" y="275.4"/><use href="#ms" x="834.8" y="276.8"/><use href="#ms" x="838" y="276.1"/><use href="#ms" x="841.2" y="275.9"/><use href="#ms" x="844.5" y="277.1"/><use href="#ms" x="847.8" y="277.5"/><use href="#ms" x="851" y="277"/><use href="#ms" x="854.2" y="278"/><use href="#ms" x="857.3" y="276.3"/><use href="#ms" x="860.5" y="277.6"/><use href="#ms" x="863.7" y="277.7"/><use href="#ms" x="866.8" y="277.4"/><use href="#ms" x="870" y="278"/><use href="#ms" x="873.2" y="279.3"/><use href="#ms" x="876.3" y="278.8"/><use href="#ms" x="879.5" y="278.7"/></g>
<g><polyline points="118.7,205.8 121.6,178 124.2,173.5 127,169 130,167 133.3,167.5 136.5,168 138.8,170 141.2,176 144.2,178 146.9,182.5 150,186.7 153.3,191.7 156.7,194.2 160,186.7 163.3,192.5 166.7,188.3 169.4,192.5 172.5,187 175.5,181 178.3,173.5 181,171 183.6,169.5 186.5,170 190,171 193.3,170.5 196.7,169.5 200,168.5 203.3,167.5 206.2,165.5 208.6,164 210.9,168 213.5,175 216,180.8 219.2,190 223.3,194.2 227,191.7 230,190 233.3,178.3 235.7,170 238.2,168.3 240.9,170 243.8,171 246.7,170.8 249.5,167 252,161.7 254.5,157 256.9,147.5 259.5,148 262.2,148.5 265,149.2 267.8,150 270.5,150.8 273.5,154.2 276.2,163.3 278.6,165 281.2,170.8 284.2,179 287,180 290,180 292.8,170 295.8,169 299.2,161 301.9,155 305,149.2 308,151 311,152 314.5,155 318.3,157.5 322,158 326,158.5 330,158.3 332.8,155.5 335.3,153.3 338,156.5 340.9,161 343.6,163.3 346.7,160 350,156.7 352.4,152 354.8,149.2 357.5,154.2 360.2,163.3 363.2,167 366.5,168 370,168.3 373.5,172 377,174.5 380.5,176.7 384.5,171.7 387.5,170.5 390,170 392.5,162 395,156.7 398.3,157.5 401,157 403.6,156.7 406,170 408.8,172.5 412,185 416.7,184.2 420.2,191.7 422.6,191.2 425,191.7 428.3,195.8 430.8,197.4 433.3,198.3 435.8,198.1 438.3,197.5 440.8,195.8 443.3,195 446.2,190 448.9,166.7 451.9,166.7 455,178.3 457.8,193.3 461.7,194.2 466.2,193.3 470,200 473.3,204.5 476.7,210.5 480,213.5 483.4,213.8 486.6,213.3 489.8,214.2 493,214.6 496.4,215 499.3,208 502,201 505,200 508,202.9 511.5,205.2 515,207.8 518.5,213.3 521.5,218.6 525,223.9 528.2,225 531.4,227.2 534.5,226.1 537.7,228.2 540.8,230.4 543.9,228.2 546.9,229.6 550,230.9 553.2,232.8 556.4,231 559.6,230.1 562.8,229.7 565.9,235.1 569.1,233.4 572.2,235 575.4,239.3 578.5,239.2 581.7,240.9 584.9,240.3 588,242.9 591.1,239.9 594.2,242.3 597.4,245.1 600.5,243.5 603.6,244.7 606.8,248 609.9,249.2 613,248 616.1,247.7 619.3,248.4 622.5,251.8 625.6,249.8 628.7,249.7 631.8,253.3 634.9,252.1 638,254.9 641.2,255.5 644.4,256 647.6,255.9 650.8,258 653.8,256.2 656.9,256.7 660,258 663,261 666.2,261.8 669.5,259.2 672.8,259.3 676,259.9 679.1,260.1 682.2,261.9 685.3,262 688.4,261.8 691.5,263.8 694.7,264.2 697.9,263.4 701,265.5 704.1,265.3 707.3,264.1 710.5,266.5 713.6,268.1 716.5,266.8 719.3,265.7 722.1,268 725,268 728.1,267.8 731.2,270.7 734.4,268.7 737.5,270.7 740.6,267.9 743.8,269.8 746.9,271.2 750,269.1 753.2,270 756.4,271.6 759.6,272.2 762.8,270.4 765.9,272.1 769.1,270.6 772.3,272.9 775.5,273.4 778.6,271.7 781.6,272 784.7,274.1 787.8,273.5 790.8,275.1 793.9,273.5 796.9,273.8 800,275.9 803.2,274.7 806.5,274.5 809.7,274.3 812.9,275.2 816.1,275 819.3,276.7 822.6,275.1 825.8,276.3 828.9,275.6 832.1,276.6 835.2,277.3 838.4,276.3 841.5,277.6 844.7,277.4 847.9,276.8 851,276.7 854.2,277.5 857.3,277 860.5,276.1 863.7,276.2 866.8,275.9 870,276.3 873.2,277.4 876.3,275.7 879.5,274.8" fill="none" stroke="#4a72c8" stroke-width="1.7" stroke-linejoin="round"/><use href="#mb" x="118.7" y="205.8"/><use href="#mb" x="121.6" y="178"/><use href="#mb" x="124.2" y="173.5"/><use href="#mb" x="127" y="169"/><use href="#mb" x="130" y="167"/><use href="#mb" x="133.3" y="167.5"/><use href="#mb" x="136.5" y="168"/><use href="#mb" x="138.8" y="170"/><use href="#mb" x="141.2" y="176"/><use href="#mb" x="144.2" y="178"/><use href="#mb" x="146.9" y="182.5"/><use href="#mb" x="150" y="186.7"/><use href="#mb" x="153.3" y="191.7"/><use href="#mb" x="156.7" y="194.2"/><use href="#mb" x="160" y="186.7"/><use href="#mb" x="163.3" y="192.5"/><use href="#mb" x="166.7" y="188.3"/><use href="#mb" x="169.4" y="192.5"/><use href="#mb" x="172.5" y="187"/><use href="#mb" x="175.5" y="181"/><use href="#mb" x="178.3" y="173.5"/><use href="#mb" x="181" y="171"/><use href="#mb" x="183.6" y="169.5"/><use href="#mb" x="186.5" y="170"/><use href="#mb" x="190" y="171"/><use href="#mb" x="193.3" y="170.5"/><use href="#mb" x="196.7" y="169.5"/><use href="#mb" x="200" y="168.5"/><use href="#mb" x="203.3" y="167.5"/><use href="#mb" x="206.2" y="165.5"/><use href="#mb" x="208.6" y="164"/><use href="#mb" x="210.9" y="168"/><use href="#mb" x="213.5" y="175"/><use href="#mb" x="216" y="180.8"/><use href="#mb" x="219.2" y="190"/><use href="#mb" x="223.3" y="194.2"/><use href="#mb" x="227" y="191.7"/><use href="#mb" x="230" y="190"/><use href="#mb" x="233.3" y="178.3"/><use href="#mb" x="235.7" y="170"/><use href="#mb" x="238.2" y="168.3"/><use href="#mb" x="240.9" y="170"/><use href="#mb" x="243.8" y="171"/><use href="#mb" x="246.7" y="170.8"/><use href="#mb" x="249.5" y="167"/><use href="#mb" x="252" y="161.7"/><use href="#mb" x="254.5" y="157"/><use href="#mb" x="256.9" y="147.5"/><use href="#mb" x="259.5" y="148"/><use href="#mb" x="262.2" y="148.5"/><use href="#mb" x="265" y="149.2"/><use href="#mb" x="267.8" y="150"/><use href="#mb" x="270.5" y="150.8"/><use href="#mb" x="273.5" y="154.2"/><use href="#mb" x="276.2" y="163.3"/><use href="#mb" x="278.6" y="165"/><use href="#mb" x="281.2" y="170.8"/><use href="#mb" x="284.2" y="179"/><use href="#mb" x="287" y="180"/><use href="#mb" x="290" y="180"/><use href="#mb" x="292.8" y="170"/><use href="#mb" x="295.8" y="169"/><use href="#mb" x="299.2" y="161"/><use href="#mb" x="301.9" y="155"/><use href="#mb" x="305" y="149.2"/><use href="#mb" x="308" y="151"/><use href="#mb" x="311" y="152"/><use href="#mb" x="314.5" y="155"/><use href="#mb" x="318.3" y="157.5"/><use href="#mb" x="322" y="158"/><use href="#mb" x="326" y="158.5"/><use href="#mb" x="330" y="158.3"/><use href="#mb" x="332.8" y="155.5"/><use href="#mb" x="335.3" y="153.3"/><use href="#mb" x="338" y="156.5"/><use href="#mb" x="340.9" y="161"/><use href="#mb" x="343.6" y="163.3"/><use href="#mb" x="346.7" y="160"/><use href="#mb" x="350" y="156.7"/><use href="#mb" x="352.4" y="152"/><use href="#mb" x="354.8" y="149.2"/><use href="#mb" x="357.5" y="154.2"/><use href="#mb" x="360.2" y="163.3"/><use href="#mb" x="363.2" y="167"/><use href="#mb" x="366.5" y="168"/><use href="#mb" x="370" y="168.3"/><use href="#mb" x="373.5" y="172"/><use href="#mb" x="377" y="174.5"/><use href="#mb" x="380.5" y="176.7"/><use href="#mb" x="384.5" y="171.7"/><use href="#mb" x="387.5" y="170.5"/><use href="#mb" x="390" y="170"/><use href="#mb" x="392.5" y="162"/><use href="#mb" x="395" y="156.7"/><use href="#mb" x="398.3" y="157.5"/><use href="#mb" x="401" y="157"/><use href="#mb" x="403.6" y="156.7"/><use href="#mb" x="406" y="170"/><use href="#mb" x="408.8" y="172.5"/><use href="#mb" x="412" y="185"/><use href="#mb" x="416.7" y="184.2"/><use href="#mb" x="420.2" y="191.7"/><use href="#mb" x="422.6" y="191.2"/><use href="#mb" x="425" y="191.7"/><use href="#mb" x="428.3" y="195.8"/><use href="#mb" x="430.8" y="197.4"/><use href="#mb" x="433.3" y="198.3"/><use href="#mb" x="435.8" y="198.1"/><use href="#mb" x="438.3" y="197.5"/><use href="#mb" x="440.8" y="195.8"/><use href="#mb" x="443.3" y="195"/><use href="#mb" x="446.2" y="190"/><use href="#mb" x="448.9" y="166.7"/><use href="#mb" x="451.9" y="166.7"/><use href="#mb" x="455" y="178.3"/><use href="#mb" x="457.8" y="193.3"/><use href="#mb" x="461.7" y="194.2"/><use href="#mb" x="466.2" y="193.3"/><use href="#mb" x="470" y="200"/><use href="#mb" x="473.3" y="204.5"/><use href="#mb" x="476.7" y="210.5"/><use href="#mb" x="480" y="213.5"/><use href="#mb" x="483.4" y="213.8"/><use href="#mb" x="486.6" y="213.3"/><use href="#mb" x="489.8" y="214.2"/><use href="#mb" x="493" y="214.6"/><use href="#mb" x="496.4" y="215"/><use href="#mb" x="499.3" y="208"/><use href="#mb" x="502" y="201"/><use href="#mb" x="505" y="200"/><use href="#mb" x="508" y="202.9"/><use href="#mb" x="511.5" y="205.2"/><use href="#mb" x="515" y="207.8"/><use href="#mb" x="518.5" y="213.3"/><use href="#mb" x="521.5" y="218.6"/><use href="#mb" x="525" y="223.9"/><use href="#mb" x="528.2" y="225"/><use href="#mb" x="531.4" y="227.2"/><use href="#mb" x="534.5" y="226.1"/><use href="#mb" x="537.7" y="228.2"/><use href="#mb" x="540.8" y="230.4"/><use href="#mb" x="543.9" y="228.2"/><use href="#mb" x="546.9" y="229.6"/><use href="#mb" x="550" y="230.9"/><use href="#mb" x="553.2" y="232.8"/><use href="#mb" x="556.4" y="231"/><use href="#mb" x="559.6" y="230.1"/><use href="#mb" x="562.8" y="229.7"/><use href="#mb" x="565.9" y="235.1"/><use href="#mb" x="569.1" y="233.4"/><use href="#mb" x="572.2" y="235"/><use href="#mb" x="575.4" y="239.3"/><use href="#mb" x="578.5" y="239.2"/><use href="#mb" x="581.7" y="240.9"/><use href="#mb" x="584.9" y="240.3"/><use href="#mb" x="588" y="242.9"/><use href="#mb" x="591.1" y="239.9"/><use href="#mb" x="594.2" y="242.3"/><use href="#mb" x="597.4" y="245.1"/><use href="#mb" x="600.5" y="243.5"/><use href="#mb" x="603.6" y="244.7"/><use href="#mb" x="606.8" y="248"/><use href="#mb" x="609.9" y="249.2"/><use href="#mb" x="613" y="248"/><use href="#mb" x="616.1" y="247.7"/><use href="#mb" x="619.3" y="248.4"/><use href="#mb" x="622.5" y="251.8"/><use href="#mb" x="625.6" y="249.8"/><use href="#mb" x="628.7" y="249.7"/><use href="#mb" x="631.8" y="253.3"/><use href="#mb" x="634.9" y="252.1"/><use href="#mb" x="638" y="254.9"/><use href="#mb" x="641.2" y="255.5"/><use href="#mb" x="644.4" y="256"/><use href="#mb" x="647.6" y="255.9"/><use href="#mb" x="650.8" y="258"/><use href="#mb" x="653.8" y="256.2"/><use href="#mb" x="656.9" y="256.7"/><use href="#mb" x="660" y="258"/><use href="#mb" x="663" y="261"/><use href="#mb" x="666.2" y="261.8"/><use href="#mb" x="669.5" y="259.2"/><use href="#mb" x="672.8" y="259.3"/><use href="#mb" x="676" y="259.9"/><use href="#mb" x="679.1" y="260.1"/><use href="#mb" x="682.2" y="261.9"/><use href="#mb" x="685.3" y="262"/><use href="#mb" x="688.4" y="261.8"/><use href="#mb" x="691.5" y="263.8"/><use href="#mb" x="694.7" y="264.2"/><use href="#mb" x="697.9" y="263.4"/><use href="#mb" x="701" y="265.5"/><use href="#mb" x="704.1" y="265.3"/><use href="#mb" x="707.3" y="264.1"/><use href="#mb" x="710.5" y="266.5"/><use href="#mb" x="713.6" y="268.1"/><use href="#mb" x="716.5" y="266.8"/><use href="#mb" x="719.3" y="265.7"/><use href="#mb" x="722.1" y="268"/><use href="#mb" x="725" y="268"/><use href="#mb" x="728.1" y="267.8"/><use href="#mb" x="731.2" y="270.7"/><use href="#mb" x="734.4" y="268.7"/><use href="#mb" x="737.5" y="270.7"/><use href="#mb" x="740.6" y="267.9"/><use href="#mb" x="743.8" y="269.8"/><use href="#mb" x="746.9" y="271.2"/><use href="#mb" x="750" y="269.1"/><use href="#mb" x="753.2" y="270"/><use href="#mb" x="756.4" y="271.6"/><use href="#mb" x="759.6" y="272.2"/><use href="#mb" x="762.8" y="270.4"/><use href="#mb" x="765.9" y="272.1"/><use href="#mb" x="769.1" y="270.6"/><use href="#mb" x="772.3" y="272.9"/><use href="#mb" x="775.5" y="273.4"/><use href="#mb" x="778.6" y="271.7"/><use href="#mb" x="781.6" y="272"/><use href="#mb" x="784.7" y="274.1"/><use href="#mb" x="787.8" y="273.5"/><use href="#mb" x="790.8" y="275.1"/><use href="#mb" x="793.9" y="273.5"/><use href="#mb" x="796.9" y="273.8"/><use href="#mb" x="800" y="275.9"/><use href="#mb" x="803.2" y="274.7"/><use href="#mb" x="806.5" y="274.5"/><use href="#mb" x="809.7" y="274.3"/><use href="#mb" x="812.9" y="275.2"/><use href="#mb" x="816.1" y="275"/><use href="#mb" x="819.3" y="276.7"/><use href="#mb" x="822.6" y="275.1"/><use href="#mb" x="825.8" y="276.3"/><use href="#mb" x="828.9" y="275.6"/><use href="#mb" x="832.1" y="276.6"/><use href="#mb" x="835.2" y="277.3"/><use href="#mb" x="838.4" y="276.3"/><use href="#mb" x="841.5" y="277.6"/><use href="#mb" x="844.7" y="277.4"/><use href="#mb" x="847.9" y="276.8"/><use href="#mb" x="851" y="276.7"/><use href="#mb" x="854.2" y="277.5"/><use href="#mb" x="857.3" y="277"/><use href="#mb" x="860.5" y="276.1"/><use href="#mb" x="863.7" y="276.2"/><use href="#mb" x="866.8" y="275.9"/><use href="#mb" x="870" y="276.3"/><use href="#mb" x="873.2" y="277.4"/><use href="#mb" x="876.3" y="275.7"/><use href="#mb" x="879.5" y="274.8"/></g>
<g><polyline points="88,90 91.3,103 94.7,112 97.2,121.3 100.5,132.2 104.5,148 107.6,148 110.3,160 113.3,162.5 115.8,168.3 119.5,171.7 122.3,176.7 125,108.3 128,90.8 131.3,99.5 134.2,109.2 137.2,105.5 140.3,115 143.4,124 146.2,127 149.2,98.3 152.5,85.8 155.3,108.7 159.2,109.2 162,112.5 164.7,120.3 168,152.5 170.8,176 173.3,185 176.2,192 179.2,197.5 183,128 185.8,107.5 189.2,104.7 192.5,95.8 195.5,91.3 198.7,94.7 201.3,77.5 204.7,84.2 207.5,75 210.3,72.2 213.3,75 216.7,77.5 219.7,74.2 223.3,73.3 226.2,79.2 228.8,89.5 232,126.5 235.8,135 238.3,139.2 241.3,148.3 244.7,164.5 247.8,165 250.8,162.5 253.3,136.7 256.3,121.7 259.7,117.5 263,109.2 265.8,94.5 268.8,99.5 271.7,75.3 274.2,70.3 277,65.3 279.8,63.2 282.8,64.7 285.5,65.3 288,73.8 290.8,75.3 293.5,87 296.5,104.2 299.5,110 302.5,121 305.3,140 309.2,140 312,145.8 315,150.8 318,150 320.8,133.3 324.2,133.3 326.7,107.5 330,103 332.8,80 335.8,75 339.2,71.7 341.7,77.5 344.7,80.5 347.8,83.5 352.2,95 355,97.2 358.3,113.3 361.2,114.5 363.8,123.3 366.7,126.7 369.5,135 372.5,138.3 375.3,145.8 378.8,145.8 382.5,140 385.5,134.2 388.3,123.3 391.3,106.2 394.7,111 397.5,119.2 400.8,114.2 403.8,111.5 406.7,130.8 409.7,137.5 413,137.5 415.5,149.2 418.8,142.5 421.7,146.7 424.7,144.2 427.5,141.7 430.5,140.8 434.2,142.5 437.2,140.8 439.7,135 443,130 446.3,149.2 449.7,147.5 452.5,156.7 455.8,164.2 459.2,160.8 461.7,173.3 465,170.8 468.3,175.8 470.8,180 474.2,175.8 477.5,174.2 480,167.5 484.2,170 486.7,170.8 490,168.3 493.3,170.8 495.8,175 499.2,175.8 502.5,187.5 505,185.8 508.3,193.3 511.7,195.9 515,200.3 518.3,202.6 521.7,201 525,206.2 528.3,202.7 531,200.8 533.7,200.1 536.4,200.9 539,204.7 541.5,206.9 544.6,208.5 547.7,210.8 550.9,212 554,214.1 557.8,214.5 561.6,218.8 564.1,220.5 566.6,225.4 569.5,222.4 572.5,225.1 575.4,225.9 578.7,226.8 582.1,224.7 585.4,228 588.8,224.6 592.1,227.7 595.5,229.4 599.2,231.8 603,231.9 606.8,232.6 610.5,234.8 614.2,238 618,239.2 621.3,240.3 624.7,241.2 628,240 631.9,240.8 635.7,244.7 639.4,244.8 643,243.8 646.9,246.5 650.8,246.8 654.1,247.3 657.5,249 660.8,246.9 664.2,249.4 667.5,251.3 670.9,252.2 674.3,251.5 677.6,251 681,253 683.5,252.7 686,251.5 689.8,253.3 693.5,252 697.2,254 701,251 704.8,254.2 708.5,254.6 712.2,255.4 716,259 719.8,259.6 723.6,261.2 726.4,261.5 729.3,259.3 732.1,258.7 735,260.2 737.8,261.1 740.9,260.5 744.1,261.2 747.2,264.7 750.4,264.8 753.5,263.7 756.7,264.5 759.9,263.3 763,263.5 766.1,262.7 769.2,263.1 772.4,264.9 775.5,265.4 778.6,265.6 781.8,265 784.9,265.6 788,264.9 791.1,264.7 794.3,267.3 797.5,267.6 800.6,268.8 803.7,268 806.8,268.7 809.9,265.8 813,265.7 816.2,267.3 819.4,267.2 822.6,268.8 825.8,270 828.8,270.7 831.9,269.9 835,269.7 838,270.2 841.2,270.8 844.5,270.7 847.8,270.2 851,270.5 854.1,272.6 857.2,270.7 860.3,272.8 863.4,272.1 866.6,272.5 869.8,273.2 873.1,272.2 876.3,271.9 879.5,273.5" fill="none" stroke="#20292c" stroke-width="1.7" stroke-linejoin="round"/><use href="#mu" x="88" y="90"/><use href="#mu" x="91.3" y="103"/><use href="#mu" x="94.7" y="112"/><use href="#mu" x="97.2" y="121.3"/><use href="#mu" x="100.5" y="132.2"/><use href="#mu" x="104.5" y="148"/><use href="#mu" x="107.6" y="148"/><use href="#mu" x="110.3" y="160"/><use href="#mu" x="113.3" y="162.5"/><use href="#mu" x="115.8" y="168.3"/><use href="#mu" x="119.5" y="171.7"/><use href="#mu" x="122.3" y="176.7"/><use href="#mu" x="125" y="108.3"/><use href="#mu" x="128" y="90.8"/><use href="#mu" x="131.3" y="99.5"/><use href="#mu" x="134.2" y="109.2"/><use href="#mu" x="137.2" y="105.5"/><use href="#mu" x="140.3" y="115"/><use href="#mu" x="143.4" y="124"/><use href="#mu" x="146.2" y="127"/><use href="#mu" x="149.2" y="98.3"/><use href="#mu" x="152.5" y="85.8"/><use href="#mu" x="155.3" y="108.7"/><use href="#mu" x="159.2" y="109.2"/><use href="#mu" x="162" y="112.5"/><use href="#mu" x="164.7" y="120.3"/><use href="#mu" x="168" y="152.5"/><use href="#mu" x="170.8" y="176"/><use href="#mu" x="173.3" y="185"/><use href="#mu" x="176.2" y="192"/><use href="#mu" x="179.2" y="197.5"/><use href="#mu" x="183" y="128"/><use href="#mu" x="185.8" y="107.5"/><use href="#mu" x="189.2" y="104.7"/><use href="#mu" x="192.5" y="95.8"/><use href="#mu" x="195.5" y="91.3"/><use href="#mu" x="198.7" y="94.7"/><use href="#mu" x="201.3" y="77.5"/><use href="#mu" x="204.7" y="84.2"/><use href="#mu" x="207.5" y="75"/><use href="#mu" x="210.3" y="72.2"/><use href="#mu" x="213.3" y="75"/><use href="#mu" x="216.7" y="77.5"/><use href="#mu" x="219.7" y="74.2"/><use href="#mu" x="223.3" y="73.3"/><use href="#mu" x="226.2" y="79.2"/><use href="#mu" x="228.8" y="89.5"/><use href="#mu" x="232" y="126.5"/><use href="#mu" x="235.8" y="135"/><use href="#mu" x="238.3" y="139.2"/><use href="#mu" x="241.3" y="148.3"/><use href="#mu" x="244.7" y="164.5"/><use href="#mu" x="247.8" y="165"/><use href="#mu" x="250.8" y="162.5"/><use href="#mu" x="253.3" y="136.7"/><use href="#mu" x="256.3" y="121.7"/><use href="#mu" x="259.7" y="117.5"/><use href="#mu" x="263" y="109.2"/><use href="#mu" x="265.8" y="94.5"/><use href="#mu" x="268.8" y="99.5"/><use href="#mu" x="271.7" y="75.3"/><use href="#mu" x="274.2" y="70.3"/><use href="#mu" x="277" y="65.3"/><use href="#mu" x="279.8" y="63.2"/><use href="#mu" x="282.8" y="64.7"/><use href="#mu" x="285.5" y="65.3"/><use href="#mu" x="288" y="73.8"/><use href="#mu" x="290.8" y="75.3"/><use href="#mu" x="293.5" y="87"/><use href="#mu" x="296.5" y="104.2"/><use href="#mu" x="299.5" y="110"/><use href="#mu" x="302.5" y="121"/><use href="#mu" x="305.3" y="140"/><use href="#mu" x="309.2" y="140"/><use href="#mu" x="312" y="145.8"/><use href="#mu" x="315" y="150.8"/><use href="#mu" x="318" y="150"/><use href="#mu" x="320.8" y="133.3"/><use href="#mu" x="324.2" y="133.3"/><use href="#mu" x="326.7" y="107.5"/><use href="#mu" x="330" y="103"/><use href="#mu" x="332.8" y="80"/><use href="#mu" x="335.8" y="75"/><use href="#mu" x="339.2" y="71.7"/><use href="#mu" x="341.7" y="77.5"/><use href="#mu" x="344.7" y="80.5"/><use href="#mu" x="347.8" y="83.5"/><use href="#mu" x="352.2" y="95"/><use href="#mu" x="355" y="97.2"/><use href="#mu" x="358.3" y="113.3"/><use href="#mu" x="361.2" y="114.5"/><use href="#mu" x="363.8" y="123.3"/><use href="#mu" x="366.7" y="126.7"/><use href="#mu" x="369.5" y="135"/><use href="#mu" x="372.5" y="138.3"/><use href="#mu" x="375.3" y="145.8"/><use href="#mu" x="378.8" y="145.8"/><use href="#mu" x="382.5" y="140"/><use href="#mu" x="385.5" y="134.2"/><use href="#mu" x="388.3" y="123.3"/><use href="#mu" x="391.3" y="106.2"/><use href="#mu" x="394.7" y="111"/><use href="#mu" x="397.5" y="119.2"/><use href="#mu" x="400.8" y="114.2"/><use href="#mu" x="403.8" y="111.5"/><use href="#mu" x="406.7" y="130.8"/><use href="#mu" x="409.7" y="137.5"/><use href="#mu" x="413" y="137.5"/><use href="#mu" x="415.5" y="149.2"/><use href="#mu" x="418.8" y="142.5"/><use href="#mu" x="421.7" y="146.7"/><use href="#mu" x="424.7" y="144.2"/><use href="#mu" x="427.5" y="141.7"/><use href="#mu" x="430.5" y="140.8"/><use href="#mu" x="434.2" y="142.5"/><use href="#mu" x="437.2" y="140.8"/><use href="#mu" x="439.7" y="135"/><use href="#mu" x="443" y="130"/><use href="#mu" x="446.3" y="149.2"/><use href="#mu" x="449.7" y="147.5"/><use href="#mu" x="452.5" y="156.7"/><use href="#mu" x="455.8" y="164.2"/><use href="#mu" x="459.2" y="160.8"/><use href="#mu" x="461.7" y="173.3"/><use href="#mu" x="465" y="170.8"/><use href="#mu" x="468.3" y="175.8"/><use href="#mu" x="470.8" y="180"/><use href="#mu" x="474.2" y="175.8"/><use href="#mu" x="477.5" y="174.2"/><use href="#mu" x="480" y="167.5"/><use href="#mu" x="484.2" y="170"/><use href="#mu" x="486.7" y="170.8"/><use href="#mu" x="490" y="168.3"/><use href="#mu" x="493.3" y="170.8"/><use href="#mu" x="495.8" y="175"/><use href="#mu" x="499.2" y="175.8"/><use href="#mu" x="502.5" y="187.5"/><use href="#mu" x="505" y="185.8"/><use href="#mu" x="508.3" y="193.3"/><use href="#mu" x="511.7" y="195.9"/><use href="#mu" x="515" y="200.3"/><use href="#mu" x="518.3" y="202.6"/><use href="#mu" x="521.7" y="201"/><use href="#mu" x="525" y="206.2"/><use href="#mu" x="528.3" y="202.7"/><use href="#mu" x="531" y="200.8"/><use href="#mu" x="533.7" y="200.1"/><use href="#mu" x="536.4" y="200.9"/><use href="#mu" x="539" y="204.7"/><use href="#mu" x="541.5" y="206.9"/><use href="#mu" x="544.6" y="208.5"/><use href="#mu" x="547.7" y="210.8"/><use href="#mu" x="550.9" y="212"/><use href="#mu" x="554" y="214.1"/><use href="#mu" x="557.8" y="214.5"/><use href="#mu" x="561.6" y="218.8"/><use href="#mu" x="564.1" y="220.5"/><use href="#mu" x="566.6" y="225.4"/><use href="#mu" x="569.5" y="222.4"/><use href="#mu" x="572.5" y="225.1"/><use href="#mu" x="575.4" y="225.9"/><use href="#mu" x="578.7" y="226.8"/><use href="#mu" x="582.1" y="224.7"/><use href="#mu" x="585.4" y="228"/><use href="#mu" x="588.8" y="224.6"/><use href="#mu" x="592.1" y="227.7"/><use href="#mu" x="595.5" y="229.4"/><use href="#mu" x="599.2" y="231.8"/><use href="#mu" x="603" y="231.9"/><use href="#mu" x="606.8" y="232.6"/><use href="#mu" x="610.5" y="234.8"/><use href="#mu" x="614.2" y="238"/><use href="#mu" x="618" y="239.2"/><use href="#mu" x="621.3" y="240.3"/><use href="#mu" x="624.7" y="241.2"/><use href="#mu" x="628" y="240"/><use href="#mu" x="631.9" y="240.8"/><use href="#mu" x="635.7" y="244.7"/><use href="#mu" x="639.4" y="244.8"/><use href="#mu" x="643" y="243.8"/><use href="#mu" x="646.9" y="246.5"/><use href="#mu" x="650.8" y="246.8"/><use href="#mu" x="654.1" y="247.3"/><use href="#mu" x="657.5" y="249"/><use href="#mu" x="660.8" y="246.9"/><use href="#mu" x="664.2" y="249.4"/><use href="#mu" x="667.5" y="251.3"/><use href="#mu" x="670.9" y="252.2"/><use href="#mu" x="674.3" y="251.5"/><use href="#mu" x="677.6" y="251"/><use href="#mu" x="681" y="253"/><use href="#mu" x="683.5" y="252.7"/><use href="#mu" x="686" y="251.5"/><use href="#mu" x="689.8" y="253.3"/><use href="#mu" x="693.5" y="252"/><use href="#mu" x="697.2" y="254"/><use href="#mu" x="701" y="251"/><use href="#mu" x="704.8" y="254.2"/><use href="#mu" x="708.5" y="254.6"/><use href="#mu" x="712.2" y="255.4"/><use href="#mu" x="716" y="259"/><use href="#mu" x="719.8" y="259.6"/><use href="#mu" x="723.6" y="261.2"/><use href="#mu" x="726.4" y="261.5"/><use href="#mu" x="729.3" y="259.3"/><use href="#mu" x="732.1" y="258.7"/><use href="#mu" x="735" y="260.2"/><use href="#mu" x="737.8" y="261.1"/><use href="#mu" x="740.9" y="260.5"/><use href="#mu" x="744.1" y="261.2"/><use href="#mu" x="747.2" y="264.7"/><use href="#mu" x="750.4" y="264.8"/><use href="#mu" x="753.5" y="263.7"/><use href="#mu" x="756.7" y="264.5"/><use href="#mu" x="759.9" y="263.3"/><use href="#mu" x="763" y="263.5"/><use href="#mu" x="766.1" y="262.7"/><use href="#mu" x="769.2" y="263.1"/><use href="#mu" x="772.4" y="264.9"/><use href="#mu" x="775.5" y="265.4"/><use href="#mu" x="778.6" y="265.6"/><use href="#mu" x="781.8" y="265"/><use href="#mu" x="784.9" y="265.6"/><use href="#mu" x="788" y="264.9"/><use href="#mu" x="791.1" y="264.7"/><use href="#mu" x="794.3" y="267.3"/><use href="#mu" x="797.5" y="267.6"/><use href="#mu" x="800.6" y="268.8"/><use href="#mu" x="803.7" y="268"/><use href="#mu" x="806.8" y="268.7"/><use href="#mu" x="809.9" y="265.8"/><use href="#mu" x="813" y="265.7"/><use href="#mu" x="816.2" y="267.3"/><use href="#mu" x="819.4" y="267.2"/><use href="#mu" x="822.6" y="268.8"/><use href="#mu" x="825.8" y="270"/><use href="#mu" x="828.8" y="270.7"/><use href="#mu" x="831.9" y="269.9"/><use href="#mu" x="835" y="269.7"/><use href="#mu" x="838" y="270.2"/><use href="#mu" x="841.2" y="270.8"/><use href="#mu" x="844.5" y="270.7"/><use href="#mu" x="847.8" y="270.2"/><use href="#mu" x="851" y="270.5"/><use href="#mu" x="854.1" y="272.6"/><use href="#mu" x="857.2" y="270.7"/><use href="#mu" x="860.3" y="272.8"/><use href="#mu" x="863.4" y="272.1"/><use href="#mu" x="866.6" y="272.5"/><use href="#mu" x="869.8" y="273.2"/><use href="#mu" x="873.1" y="272.2"/><use href="#mu" x="876.3" y="271.9"/><use href="#mu" x="879.5" y="273.5"/></g>
<rect x="88.2" y="13.1" width="795.7" height="331.2" fill="none" stroke="#111" stroke-width="1.7"/>
<rect x="667.5" y="14.8" width="214.7" height="129.6" fill="#fff" stroke="#222a2c" stroke-width="1.7"/>
<line x1="667.5" y1="13.1" x2="884.8" y2="13.1" stroke="#111" stroke-width="1.7"/>
<line x1="883.9" y1="13.1" x2="883.9" y2="144.4" stroke="#111" stroke-width="1.7"/>
<line x1="677.8" y1="27.6" x2="723.3" y2="27.6" stroke="#f01818" stroke-width="1.7"/>
<use href="#mr" transform="translate(700.5,27.6) scale(1.12)"/>
<text x="727.8" y="34.2" class="lg">PL tab at 0.0D</text>
<line x1="677.8" y1="54.1" x2="723.3" y2="54.1" stroke="#2f5a14" stroke-width="1.7"/>
<use href="#mg" transform="translate(700.5,54.1) scale(1.12)"/>
<text x="727.8" y="60.7" class="lg">PL tab at 0.25D</text>
<line x1="677.8" y1="79.8" x2="723.3" y2="79.8" stroke="#2a3032" stroke-width="1.7"/>
<use href="#ms" transform="translate(700.5,79.8) scale(1.12)"/>
<text x="727.8" y="86.4" class="lg">PL tab at 0.5D</text>
<line x1="677.8" y1="105.7" x2="723.3" y2="105.7" stroke="#4a72c8" stroke-width="1.7"/>
<use href="#mb" transform="translate(700.5,105.7) scale(1.12)"/>
<text x="727.8" y="112.3" class="lg">PL tab at 0.75D</text>
<line x1="677.8" y1="131.7" x2="723.3" y2="131.7" stroke="#20292c" stroke-width="1.7"/>
<use href="#mu" transform="translate(700.5,131.7) scale(1.12)"/>
<text x="727.8" y="138.3" class="lg">Uncontrolled</text>
<text x="70.6" y="350.7" class="tk" text-anchor="end">0</text>
<text x="70.6" y="284.5" class="tk" text-anchor="end">0.2</text>
<text x="70.6" y="218.2" class="tk" text-anchor="end">0.4</text>
<text x="70.6" y="152" class="tk" text-anchor="end">0.6</text>
<text x="70.6" y="85.7" class="tk" text-anchor="end">0.8</text>
<text x="70.6" y="19.5" class="tk" text-anchor="end">1</text>
<text x="88.2" y="375.9" class="tk" text-anchor="middle">0</text>
<text x="287.1" y="375.9" class="tk" text-anchor="middle">5</text>
<text x="486" y="375.9" class="tk" text-anchor="middle">10</text>
<text x="685" y="375.9" class="tk" text-anchor="middle">15</text>
<text x="883.9" y="375.9" class="tk" text-anchor="middle">20</text>
<text x="486" y="409.3" class="ax" text-anchor="middle">x/D</text>
<text transform="translate(21.5,180.2) rotate(-90)" class="ax ay" text-anchor="middle">p<tspan class="sb" dy="5">ot</tspan><tspan class="sl" dy="-5">/</tspan>p<tspan class="sb" dy="5">oi</tspan></text>
</svg>
</body></html>
